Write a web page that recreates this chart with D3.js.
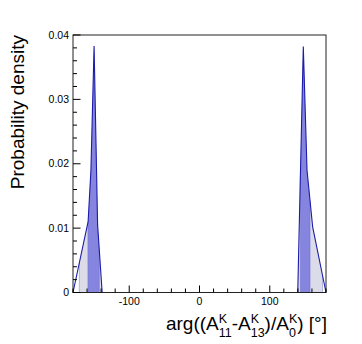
<!DOCTYPE html>
<html>
<head>
<meta charset="utf-8">
<script src="https://cdn.jsdelivr.net/npm/d3@7"></script>
<style>
  html, body { margin: 0; padding: 0; background: #fff; }
  text { font-family: "Liberation Sans", Arial, sans-serif; }
</style>
</head>
<body>
<svg id="chart" width="362" height="344"></svg>
<script>
// density curve (angle in degrees)
const angles  = [-180, -158.5, -154.5, -150, -146.5, -145, -138.5, 139.8, 147.7, 153, 161, 180];
const density = [0, 0.011, 0.019, 0.0383, 0.019, 0.0105, 0, 0, 0.0382, 0.019, 0.0102, 0];

// shaded intervals: wide (light) and narrow (dark)
const outerBands = [[-171, -138.5], [139.8, 175]];
const innerBands = [[-158.8, -142.5], [143.5, 157.3]];

const xTicks = [-100, 0, 100];
const yTicks = [0, 0.01, 0.02, 0.03, 0.04];
const yTickLabels = ["0", "0.01", "0.02", "0.03", "0.04"];

const svg = d3.select('#chart');
const frame = {left: 73, right: 326, top: 35, bottom: 292.5};

const x = d3.scaleLinear().domain([-180, 180]).range([frame.left, frame.right]);
const y = d3.scaleLinear().domain([0, 0.04]).range([frame.bottom, frame.top]);

const pts = angles.map((a, i) => ({a: a, d: density[i]}));

// value of the curve at any angle (linear between points)
function valueAt(a) {
    for (let i = 0; i < pts.length - 1; i++) {
        if (a >= pts[i].a && a <= pts[i + 1].a) {
            const t = (a - pts[i].a) / (pts[i + 1].a - pts[i].a || 1);
            return pts[i].d + t * (pts[i + 1].d - pts[i].d);
        }
    }
    return 0;
}

function bandPoints(lo, hi) {
    const inside = pts.filter(p => p.a > lo && p.a < hi);
    return [{a: lo, d: valueAt(lo)}].concat(inside, [{a: hi, d: valueAt(hi)}]);
}

const area = d3.area().x(p => x(p.a)).y0(y(0)).y1(p => y(p.d));

// light band
outerBands.forEach(b => {
    svg.append('path').attr('d', area(bandPoints(b[0], b[1])))
        .attr('fill', '#dcdce9');
});
// dark band
innerBands.forEach(b => {
    svg.append('path').attr('d', area(bandPoints(b[0], b[1])))
        .attr('fill', '#8585e0');
});

// dotted edges of the bands
outerBands.concat(innerBands).forEach(b => {
    b.forEach(a => {
        svg.append('line')
            .attr('x1', x(a)).attr('x2', x(a))
            .attr('y1', y(0)).attr('y2', y(valueAt(a)))
            .attr('stroke', '#5a5ac8').attr('stroke-width', 0.8)
            .attr('stroke-dasharray', '1,1');
    });
});

// curve
svg.append('path')
    .datum(pts)
    .attr('d', d3.line().x(p => x(p.a)).y(p => y(p.d)))
    .attr('fill', 'none')
    .attr('stroke', '#1c1ca8')
    .attr('stroke-width', 1.1);

// frame
svg.append('rect')
    .attr('x', frame.left).attr('y', frame.top)
    .attr('width', frame.right - frame.left).attr('height', frame.bottom - frame.top)
    .attr('fill', 'none').attr('stroke', '#222').attr('stroke-width', 1);

// y axis ticks (inside)
const yMinor = d3.range(0, 0.0401, 0.002);
yMinor.forEach(v => {
    const major = Math.abs(v * 100 - Math.round(v * 100)) < 1e-6;
    svg.append('line')
        .attr('x1', frame.left).attr('x2', frame.left + (major ? 7.5 : 4))
        .attr('y1', y(v)).attr('y2', y(v))
        .attr('stroke', '#000').attr('stroke-width', 1);
});
svg.selectAll('.ylab').data(yTicks).enter().append('text')
    .attr('x', frame.left - 4).attr('y', v => y(v) + 3.5)
    .attr('text-anchor', 'end')
    .attr('font-size', 10.5)
    .text((v, i) => yTickLabels[i]);

// x axis ticks (inside)
const xMinor = d3.range(-180, 181, 20);
xMinor.forEach(v => {
    const major = v % 100 === 0;
    svg.append('line')
        .attr('x1', x(v)).attr('x2', x(v))
        .attr('y1', frame.bottom).attr('y2', frame.bottom - (major ? 7 : 4))
        .attr('stroke', '#000').attr('stroke-width', 1);
});
svg.selectAll('.xlab').data(xTicks).enter().append('text')
    .attr('x', v => x(v)).attr('y', frame.bottom + 12)
    .attr('text-anchor', 'middle')
    .attr('font-size', 10.5)
    .text(v => v);

// y title
svg.append('text')
    .attr('transform', 'translate(24,' + frame.top + ') rotate(-90)')
    .attr('text-anchor', 'end')
    .attr('font-size', 19)
    .text('Probability density');

// x title, built piece by piece for the stacked super/subscripts
const titleParts = [
    {t: 'arg((A'}, {sup: 'K', sub: '11'},
    {t: '-A'}, {sup: 'K', sub: '13'},
    {t: ')/A'}, {sup: 'K', sub: '0'},
    {t: ') [°]'}
];
const title = svg.append('g');
let cx = 0;
const base = 330;
titleParts.forEach(p => {
    if (p.t) {
        const el = title.append('text').attr('x', cx).attr('y', base)
            .attr('font-size', 19).text(p.t);
        cx += el.node().getComputedTextLength();
    } else {
        const s1 = title.append('text').attr('x', cx).attr('y', base - 7.5)
            .attr('font-size', 12.5).text(p.sup);
        const s2 = title.append('text').attr('x', cx).attr('y', base + 7)
            .attr('font-size', 12.5).text(p.sub);
        cx += Math.max(s1.node().getComputedTextLength(), s2.node().getComputedTextLength());
    }
});
title.attr('transform', 'translate(' + (frame.right + 1 - cx) + ',0)');
</script>
</body>
</html>
